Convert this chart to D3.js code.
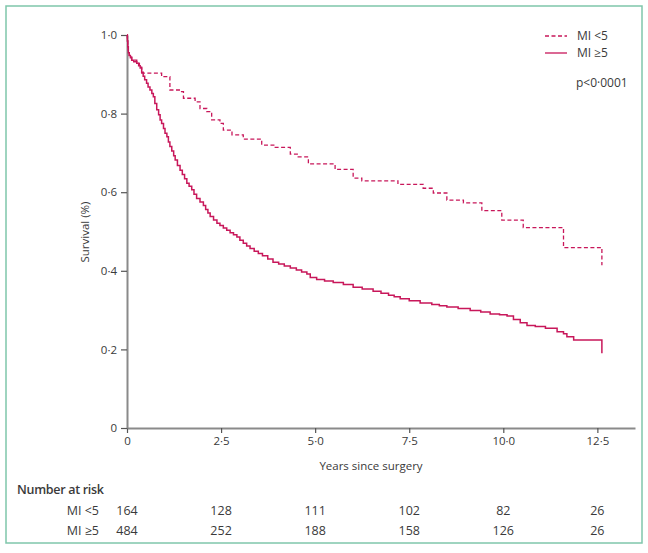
<!DOCTYPE html>
<html><head><meta charset="utf-8">
<script src="https://cdn.jsdelivr.net/npm/d3@7"></script>
<style>
body{margin:0;background:#fff;}
text{font-family:"Open Sans",sans-serif;fill:#3a3a3a;}
</style></head><body>
<svg id="c" width="648" height="553"></svg>
<script>
// ---- data ----
const seriesNames = ["MI <5", "MI \u22655"];
const miLowTimes = [0,0.01,0.02,0.035,0.06,0.125,0.26,0.33,0.39,0.92,1.14,1.41,1.50,1.81,1.94,2.12,2.25,2.47,2.56,2.79,3.09,3.58,3.94,4.34,4.55,4.82,5.53,6.01,6.24,7.2,7.87,8.14,8.5,8.94,9.43,9.96,10.53,11.6,12.62];
const miLowSurv  = [1.0,0.985,0.97,0.955,0.948,0.936,0.928,0.918,0.903,0.894,0.86,0.856,0.839,0.83,0.813,0.805,0.784,0.775,0.758,0.746,0.735,0.72,0.714,0.697,0.69,0.672,0.658,0.636,0.629,0.62,0.61,0.598,0.58,0.573,0.553,0.529,0.51,0.459,0.414];
const miHighTimes = [0,0.01,0.02,0.035,0.06,0.09,0.125,0.18,0.26,0.31,0.35,0.39,0.43,0.47,0.52,0.56,0.61,0.66,0.70,0.74,0.79,0.84,0.88,0.92,0.97,1.01,1.06,1.10,1.14,1.19,1.24,1.28,1.34,1.41,1.47,1.53,1.59,1.65,1.72,1.78,1.85,1.94,2.03,2.09,2.15,2.21,2.30,2.39,2.47,2.56,2.65,2.74,2.83,2.92,3.00,3.09,3.18,3.27,3.38,3.49,3.6,3.74,3.88,4.03,4.18,4.34,4.5,4.64,4.78,4.87,5.04,5.25,5.48,5.75,6.01,6.25,6.54,6.75,6.95,7.1,7.26,7.5,7.79,8.1,8.3,8.5,8.8,9.12,9.4,9.65,9.9,10.1,10.27,10.45,10.63,10.85,11.12,11.43,11.6,11.69,11.87,12.62];
const miHighSurv  = [1.0,0.985,0.97,0.955,0.948,0.942,0.936,0.932,0.928,0.922,0.916,0.905,0.895,0.886,0.877,0.868,0.86,0.851,0.843,0.826,0.81,0.797,0.784,0.775,0.762,0.75,0.741,0.728,0.716,0.705,0.693,0.682,0.668,0.656,0.645,0.634,0.623,0.615,0.606,0.595,0.584,0.575,0.566,0.556,0.547,0.538,0.529,0.521,0.515,0.509,0.503,0.497,0.492,0.486,0.478,0.47,0.463,0.457,0.45,0.444,0.438,0.43,0.422,0.417,0.412,0.407,0.402,0.397,0.392,0.383,0.378,0.374,0.37,0.365,0.358,0.354,0.348,0.343,0.338,0.334,0.329,0.324,0.318,0.314,0.311,0.308,0.304,0.299,0.295,0.29,0.288,0.285,0.276,0.268,0.261,0.258,0.254,0.245,0.24,0.232,0.224,0.19];
const xTicks = [0,2.5,5,7.5,10,12.5];
const yTicks = [0,0.2,0.4,0.6,0.8,1.0];
const riskTimes = [0,2.5,5,7.5,10,12.5];
const riskLow  = [164,128,111,102,82,26];
const riskHigh = [484,252,188,158,126,26];
const pText = "p<0\u00b70001";

// ---- drawing ----
const svg = d3.select("#c");
const red = "#c8175a", axisCol = "#8a8a8a";
svg.append("rect").attr("x",6).attr("y",6).attr("width",636).attr("height",537)
  .attr("fill","none").attr("stroke","#7fc6ab").attr("stroke-width",1.5);

const x = d3.scaleLinear().domain([0,13.5]).range([127,635]);
const y = d3.scaleLinear().domain([0,1]).range([428,35]);
const fmt = d => d===0 ? "0" : d3.format(".1f")(d).replace(".","\u00b7");

const xa = svg.append("g").attr("transform","translate(0,428)")
  .call(d3.axisBottom(x).tickValues(xTicks).tickFormat(fmt).tickSize(5).tickPadding(4).tickSizeOuter(0));
const ya = svg.append("g").attr("transform","translate(127,0)")
  .call(d3.axisLeft(y).tickValues(yTicks).tickFormat(fmt).tickSize(6).tickPadding(4).tickSizeOuter(0));
[xa,ya].forEach(g=>{
  g.select(".domain").attr("stroke",axisCol).attr("stroke-width",2);
  g.selectAll(".tick line").attr("stroke","#555").attr("stroke-width",1.2);
  g.selectAll(".tick text").attr("font-size",11.5).attr("fill","#3a3a3a").attr("font-family","Open Sans");
});

svg.append("text").attr("x",371).attr("y",470).attr("text-anchor","middle").attr("font-size",11.5).text("Years since surgery");
svg.append("text").attr("transform","translate(89,232) rotate(-90)").attr("text-anchor","middle").attr("font-size",11.5).text("Survival (%)");

const line = d3.line().x(d=>x(d[0])).y(d=>y(d[1])).curve(d3.curveStepAfter);
const lowData = miLowTimes.map((t,i)=>[t,miLowSurv[i]]);
const highData = miHighTimes.map((t,i)=>[t,miHighSurv[i]]);
svg.append("path").datum(highData).attr("d",line).attr("fill","none").attr("stroke",red).attr("stroke-width",1.5);
svg.append("path").datum(lowData).attr("d",line).attr("fill","none").attr("stroke",red).attr("stroke-width",1.3).attr("stroke-dasharray","4,2.5");

// legend
const leg = svg.append("g");
[[36,"4,2.5"],[53,null]].forEach((r,i)=>{
  leg.append("line").attr("x1",545).attr("x2",567).attr("y1",r[0]).attr("y2",r[0])
    .attr("stroke",red).attr("stroke-width",1.3).attr("stroke-dasharray",r[1]);
  leg.append("text").attr("x",577).attr("y",r[0]+4).attr("font-size",12).text(seriesNames[i]);
});
svg.append("text").attr("x",576).attr("y",87).attr("font-size",12).text(pText);

// number at risk
svg.append("text").attr("x",17).attr("y",494).attr("font-size",12.5).attr("font-weight",600).attr("letter-spacing",-0.3).text("Number at risk");
[[riskLow,515],[riskHigh,535]].forEach((r,i)=>{
  svg.append("text").attr("x",99).attr("y",r[1]).attr("text-anchor","end").attr("font-size",12.5).text(seriesNames[i]);
  r[0].forEach((v,j)=>{
    svg.append("text").attr("x",x(riskTimes[j])).attr("y",r[1]).attr("text-anchor","middle").attr("font-size",12.5).text(v);
  });
});
</script></body></html>
